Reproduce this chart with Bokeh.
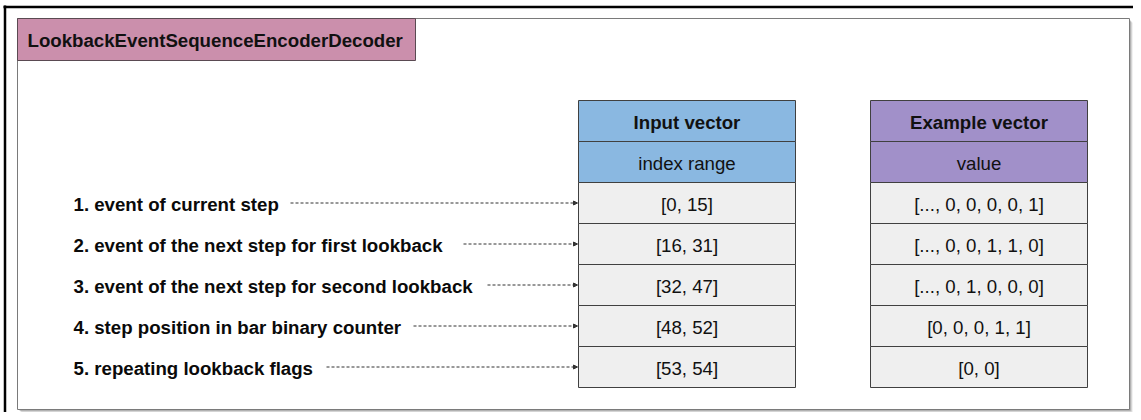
from bokeh.plotting import figure
from bokeh.models import Range1d, ColumnDataSource, Arrow, NormalHead
from bokeh.core.properties import value
from bokeh.embed import file_html
from bokeh.resources import INLINE

# ---- data ----
title = "LookbackEventSequenceEncoderDecoder"
labels = [
    "1. event of current step",
    "2. event of the next step for first lookback",
    "3. event of the next step for second lookback",
    "4. step position in bar binary counter",
    "5. repeating lookback flags",
]
index_ranges = ["[0, 15]", "[16, 31]", "[32, 47]", "[48, 52]", "[53, 54]"]
example_values = [
    "[..., 0, 0, 0, 0, 1]",
    "[..., 0, 0, 1, 1, 0]",
    "[..., 0, 1, 0, 0, 0]",
    "[0, 0, 0, 1, 1]",
    "[0, 0]",
]
input_headers = ["Input vector", "index range"]
example_headers = ["Example vector", "value"]

# ---- layout (pixel coordinates of the picture) ----
FONT = value("Liberation Sans")
FS = "18.67px"
W, H = 1133, 412
p = figure(width=W, height=H, x_range=Range1d(0, W), y_range=Range1d(H, 0),
           output_backend="svg", toolbar_location=None, min_border=0,
           background_fill_color="white", border_fill_color="white")
p.axis.visible = False
p.grid.visible = False
p.outline_line_color = None

# outer black border (top and left visible)
p.segment(x0=[3], y0=[6.5], x1=[W], y1=[6.5], line_color="black", line_width=2.5)
p.segment(x0=[4.5], y0=[5], x1=[4.5], y1=[H], line_color="black", line_width=2.5)

# inner frame with shadow
FL, FR, FT, FB = 17, 1129, 18, 409
for off, col in [(3, "#e4e4e4"), (2, "#c4c4c4"), (1, "#a0a0a0")]:
    p.quad(left=[FL + off + 1], right=[FR + off], top=[FT + off + 1], bottom=[FB + off],
           fill_color=col, line_color=None)
p.quad(left=[FL], right=[FR], top=[FT], bottom=[FB], fill_color="white",
       line_color="#7a7a7a", line_width=1)

# title box
p.quad(left=[FL], right=[415], top=[FT], bottom=[60], fill_color="#cb8fac",
       line_color="#5a4a52", line_width=1)
p.text(x=[27], y=[40], text=[title], text_font=FONT, text_font_size=FS,
       text_font_style="bold", text_baseline="middle", text_align="left", text_color="#111111")

# tables
ROW_TOP = 100
ROW_H = 41
n_rows = len(input_headers) + len(labels)
tops = [ROW_TOP + i * ROW_H for i in range(n_rows)]
bots = [t + ROW_H for t in tops]
mids = [(t + b) / 2 for t, b in zip(tops, bots)]


def table(left, right, headers, cells, head_color):
    fills = [head_color] * len(headers) + ["#efefef"] * len(cells)
    p.quad(left=[left] * n_rows, right=[right] * n_rows, top=tops, bottom=bots,
           fill_color=fills, line_color="#404040", line_width=1)
    cx = (left + right) / 2
    texts = headers + cells
    styles = ["bold"] + ["normal"] * (len(texts) - 1)
    src = ColumnDataSource(dict(x=[cx] * n_rows, y=[m + 1 for m in mids], t=texts, s=styles))
    p.text(x="x", y="y", text="t", source=src, text_font=FONT, text_font_size=FS,
           text_font_style="s", text_baseline="middle", text_align="center", text_color="#111111")


IN_L, IN_R = 578, 795
EX_L, EX_R = 870, 1087
table(IN_L, IN_R, input_headers, index_ranges, "#8ab8e1")
table(EX_L, EX_R, example_headers, example_values, "#a190c9")

# labels
lab_y = mids[len(input_headers):]
p.text(x=[73] * len(labels), y=[y + 1 for y in lab_y], text=labels, text_font=FONT,
       text_font_size=FS, text_font_style="bold", text_baseline="middle",
       text_align="left", text_color="#0a0a0a")

# dashed arrows
arrow_start = [290, 463, 487, 413, 326]
asrc = ColumnDataSource(dict(x0=arrow_start, y0=lab_y, x1=[IN_L - 1] * len(labels), y1=lab_y))
p.add_layout(Arrow(end=NormalHead(size=4, fill_color="#333333", line_color="#333333", line_width=1),
                   x_start="x0", y_start="y0", x_end="x1", y_end="y1", source=asrc,
                   line_color="#333333", line_width=1, line_dash="3 2"))

open("out.html", "w").write(file_html(p, INLINE))
